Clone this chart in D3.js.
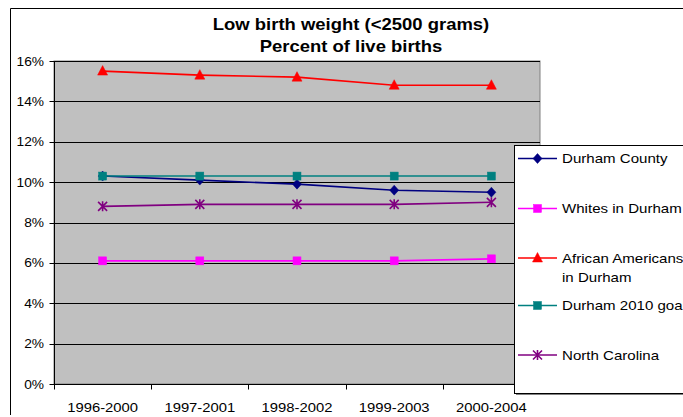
<!DOCTYPE html>
<html>
<head>
<meta charset="utf-8">
<script src="https://cdn.jsdelivr.net/npm/d3@7"></script>
<style>
  html, body { margin: 0; padding: 0; background: #fff; }
  svg { display: block; font-family: "Liberation Sans", Arial, sans-serif; }
</style>
</head>
<body>
<svg id="chart" width="683" height="417"></svg>
<script>
// Five-year rolling periods
const periods = ["1996-2000", "1997-2001", "1998-2002", "1999-2003", "2000-2004"];

// Low birth weight, percent of live births
const durhamCounty      = [10.3, 10.1, 9.9, 9.6, 9.5];
const whitesInDurham    = [6.1, 6.1, 6.1, 6.1, 6.2];
const africanAmericans  = [15.5, 15.3, 15.2, 14.8, 14.8];
const durhamGoal2010    = [10.3, 10.3, 10.3, 10.3, 10.3];
const northCarolina     = [8.8, 8.9, 8.9, 8.9, 9.0];

const yTicks = [0, 2, 4, 6, 8, 10, 12, 14, 16];

const titleLines = ["Low birth weight (<2500 grams)", "Percent of live births"];

const series = [
  { name: ["Durham County"], values: durhamCounty, color: "#000080", marker: "diamond" },
  { name: ["Whites in Durham"], values: whitesInDurham, color: "#FF00FF", marker: "square" },
  { name: ["African Americans", "in Durham"], values: africanAmericans, color: "#FF0000", marker: "triangle" },
  { name: ["Durham 2010 goal"], values: durhamGoal2010, color: "#008080", marker: "square" },
  { name: ["North Carolina"], values: northCarolina, color: "#800080", marker: "star" }
];
// draw order: goal squares sit on top of the county line
const drawOrder = [2, 4, 1, 0, 3];

const svg = d3.select("#chart");

// Text helper: slightly wide glyphs
function label(g, str, x, y, opts) {
  const t = g.append("text")
    .attr("transform", `translate(${x},${y}) scale(${opts.sx || 1.13},1)`)
    .attr("font-size", opts.size)
    .attr("font-weight", opts.weight || "normal")
    .attr("text-anchor", opts.anchor || "start")
    .attr("fill", "#000")
    .text(str);
  return t;
}

// chart frame
svg.append("path")
  .attr("d", "M10.5,415 L10.5,8.5 L690,8.5")
  .attr("fill", "none").attr("stroke", "#000").attr("stroke-width", 1);

// title
label(svg, titleLines[0], 351, 29.5, { size: 16.5, weight: "bold", anchor: "middle", sx: 1.12 });
label(svg, titleLines[1], 351, 52, { size: 16.5, weight: "bold", anchor: "middle", sx: 1.12 });

const plot = { left: 54, right: 540, top: 61, bottom: 384 };

const x = d3.scaleBand().domain(periods).range([plot.left, plot.right]);
const y = d3.scaleLinear().domain([0, 16]).range([plot.bottom, plot.top]);

// plot background
svg.append("rect")
  .attr("x", plot.left).attr("y", plot.top)
  .attr("width", plot.right - plot.left).attr("height", plot.bottom - plot.top)
  .attr("fill", "#C0C0C0").attr("stroke", "#808080").attr("stroke-width", 1);

// gridlines
svg.append("g").selectAll("line").data(yTicks).join("line")
  .attr("x1", plot.left).attr("x2", plot.right)
  .attr("y1", d => Math.round(y(d)) + 0.5).attr("y2", d => Math.round(y(d)) + 0.5)
  .attr("stroke", "#000").attr("stroke-width", 1);

// y axis
const yAxisG = svg.append("g").attr("transform", `translate(${plot.left + 0.5},0)`);
yAxisG.append("line").attr("x1", 0).attr("x2", 0).attr("y1", plot.top).attr("y2", plot.bottom).attr("stroke", "#000");
yAxisG.selectAll("line.tick").data(yTicks).join("line").attr("class", "tick")
  .attr("x1", -5).attr("x2", 0)
  .attr("y1", d => Math.round(y(d)) + 0.5).attr("y2", d => Math.round(y(d)) + 0.5)
  .attr("stroke", "#000");
yTicks.forEach(v => label(svg, v + "%", 44, y(v) + 4.5, { size: 12.5, anchor: "end", sx: 1.1 }));

// x axis
const xAxisG = svg.append("g").attr("transform", `translate(0,${Math.round(plot.bottom) + 0.5})`);
xAxisG.append("line").attr("x1", plot.left).attr("x2", plot.right).attr("stroke", "#000");
const bounds = periods.map(p => x(p)).concat([plot.right]);
xAxisG.selectAll("line.tick").data(bounds).join("line").attr("class", "tick")
  .attr("x1", d => Math.round(d) + 0.5).attr("x2", d => Math.round(d) + 0.5)
  .attr("y1", 0).attr("y2", 5).attr("stroke", "#000");
periods.forEach(p => label(svg, p, x(p) + x.bandwidth() / 2, 411.5, { size: 13, anchor: "middle", sx: 1.14 }));

// markers
function drawMarker(g, type, cx, cy, color) {
  if (type === "diamond") {
    g.append("path").attr("d", `M${cx},${cy - 5} L${cx + 4.5},${cy} L${cx},${cy + 5} L${cx - 4.5},${cy} Z`)
      .attr("fill", color).attr("stroke", color).attr("stroke-width", 0.5);
  } else if (type === "square") {
    g.append("rect").attr("x", cx - 4).attr("y", cy - 4).attr("width", 8).attr("height", 8)
      .attr("fill", color).attr("stroke", color).attr("stroke-width", 0.5);
  } else if (type === "triangle") {
    g.append("path").attr("d", `M${cx},${cy - 5.5} L${cx + 5},${cy + 4} L${cx - 5},${cy + 4} Z`)
      .attr("fill", color).attr("stroke", color).attr("stroke-width", 0.5);
  } else if (type === "star") {
    const r = 4.5;
    g.append("path")
      .attr("d", `M${cx - r},${cy - r} L${cx + r},${cy + r} M${cx - r},${cy + r} L${cx + r},${cy - r} M${cx},${cy - r - 0.5} L${cx},${cy + r + 0.5}`)
      .attr("stroke", color).attr("stroke-width", 1.6).attr("fill", "none");
  }
}

const line = d3.line().x((d, i) => x(periods[i]) + x.bandwidth() / 2).y(d => y(d));

drawOrder.forEach(idx => {
  const s = series[idx];
  const g = svg.append("g");
  g.append("path").datum(s.values).attr("d", line)
    .attr("fill", "none").attr("stroke", s.color).attr("stroke-width", 1.6);
  s.values.forEach((v, i) => drawMarker(g, s.marker, x(periods[i]) + x.bandwidth() / 2, y(v), s.color));
});

// legend
const lg = svg.append("g");
lg.append("rect").attr("x", 516).attr("y", 147).attr("width", 200).attr("height", 248).attr("fill", "#808080");
lg.append("rect").attr("x", 514.5).attr("y", 145.5).attr("width", 200).attr("height", 248)
  .attr("fill", "#fff").attr("stroke", "#000").attr("stroke-width", 1);
const rowY = [158.5, 208.5, 258, 305.5, 355];
series.forEach((s, i) => {
  const cy = rowY[i];
  lg.append("line").attr("x1", 518).attr("x2", 557).attr("y1", cy).attr("y2", cy)
    .attr("stroke", s.color).attr("stroke-width", 1.6);
  drawMarker(lg, s.marker, 537.5, cy, s.color);
  s.name.forEach((t, k) => label(lg, t, 562, cy + 4.5 + k * 19.5, { size: 13, sx: 1.16 }));
});
</script>
</body>
</html>
